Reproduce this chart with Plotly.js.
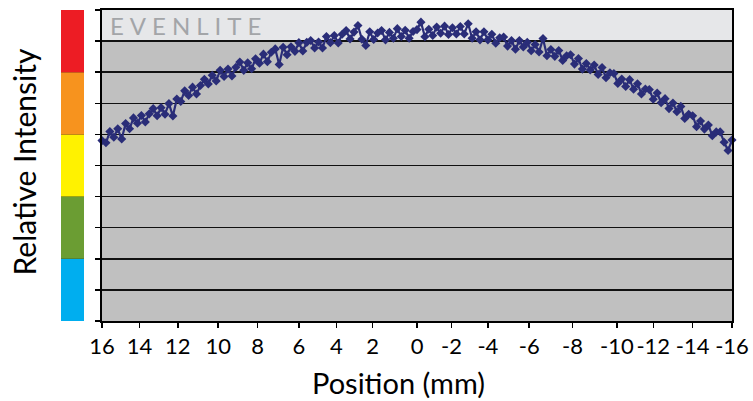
<!DOCTYPE html>
<html>
<head>
<meta charset="utf-8">
<script src="https://cdn.plot.ly/plotly-3.0.1.min.js"></script>
<style>html,body{margin:0;padding:0;background:#fff;}#chart{width:753px;height:401px;}</style>
</head>
<body>
<div id="chart"></div>
<script>
// Position (mm)
const positions = [
16.0,15.8,15.6,15.4,15.2,15.0,14.8,14.6,14.4,14.2,
14.0,13.8,13.6,13.4,13.2,13.0,12.8,12.6,12.4,12.2,
12.0,11.8,11.6,11.4,11.2,11.0,10.8,10.6,10.4,10.2,
10.0,9.8,9.6,9.4,9.2,9.0,8.8,8.6,8.4,8.2,
8.0,7.8,7.6,7.4,7.2,7.0,6.8,6.6,6.4,6.2,
6.0,5.8,5.6,5.4,5.2,5.0,4.8,4.6,4.4,4.2,
4.0,3.8,3.6,3.4,3.2,3.0,2.8,2.6,2.4,2.2,
2.0,1.8,1.6,1.4,1.2,1.0,0.8,0.6,0.4,0.2,
0.0,-0.2,-0.4,-0.6,-0.8,-1.0,-1.2,-1.4,-1.6,-1.8,
-2.0,-2.2,-2.4,-2.6,-2.8,-3.0,-3.2,-3.4,-3.6,-3.8,
-4.0,-4.2,-4.4,-4.6,-4.8,-5.0,-5.2,-5.4,-5.6,-5.8,
-6.0,-6.2,-6.4,-6.6,-6.8,-7.0,-7.2,-7.4,-7.6,-7.8,
-8.0,-8.2,-8.4,-8.6,-8.8,-9.0,-9.2,-9.4,-9.6,-9.8,
-10.0,-10.2,-10.4,-10.6,-10.8,-11.0,-11.2,-11.4,-11.6,-11.8,
-12.0,-12.2,-12.4,-12.6,-12.8,-13.0,-13.2,-13.4,-13.6,-13.8,
-14.0,-14.2,-14.4,-14.6,-14.8,-15.0,-15.2,-15.4,-15.6,-15.8,
-16.0
];
// Relative intensity (0-100 scale)
const intensity = [
58.0,57.3,60.9,59.1,61.8,58.5,63.5,61.8,65.3,63.6,
66.1,64.0,66.6,68.3,66.0,68.6,66.5,69.9,65.9,71.4,
70.6,74.0,72.5,75.2,73.0,75.7,77.7,76.2,79.0,77.2,
80.6,78.6,81.0,78.8,81.6,83.3,80.6,83.0,81.1,84.3,
82.9,85.8,83.4,86.4,87.5,82.5,88.0,85.6,88.2,86.7,
89.5,86.8,89.6,90.2,87.8,89.7,87.8,91.5,89.5,91.8,
89.4,92.2,93.4,90.7,92.9,95.0,90.6,88.6,93.0,90.5,
92.6,93.4,90.4,92.8,90.9,94.0,91.5,93.5,90.9,93.1,
93.7,96.1,91.4,93.8,91.8,94.5,92.5,94.8,92.1,94.3,
92.3,94.7,92.3,95.6,90.9,93.0,90.4,93.0,90.4,92.2,
89.3,91.1,91.3,88.4,90.2,87.4,90.2,88.1,89.6,86.9,
88.9,86.5,90.8,85.3,87.3,85.1,87.0,83.8,85.3,85.6,
82.6,84.4,81.0,82.8,80.7,82.3,79.3,81.5,78.2,79.8,
79.6,76.4,77.8,75.4,77.6,74.5,76.3,73.0,74.6,74.4,
71.3,73.3,70.2,71.5,68.3,70.1,67.3,69.0,65.1,66.5,
66.0,62.5,64.3,61.7,63.0,59.6,60.8,60.8,57.5,54.8,
58.2
];
// X tick labels and where they sit on the axis
const tickLabels = ['16','14','12','10','8','6','4','2','0','-2','-4','-6','-8','-10','-12','-14','-16'];
const tickPositions = [16, 14.1, 12.15, 10.1, 8.1, 6.0, 4.1, 2.25, 0.0, -1.75, -3.6, -5.7, -7.9, -10.15, -12.0, -14.0, -16.0];
// Intensity colour scale bands
const bandBase = [0, 20, 40, 60, 80];
const bandSize = [20, 20, 20, 20, 20];
const bandColors = ['#00aeef', '#6b9d33', '#fff200', '#f7931e', '#ed1c24'];
const brandLabel = 'EVENLITE';
const xTitle = 'Position (mm)';
const yTitle = 'Relative Intensity';
const topBandStart = 90;

const FONT = 'Lato, "Open Sans", sans-serif';

const traces = [
  {
    type: 'bar', x: bandBase.map(() => 0), y: bandSize, base: bandBase,
    xaxis: 'x2', yaxis: 'y', width: 1,
    marker: {color: bandColors, line: {width: 0}},
    hoverinfo: 'skip', showlegend: false
  },
  {
    type: 'scatter', mode: 'lines+markers', x: positions, y: intensity,
    xaxis: 'x', yaxis: 'y',
    line: {color: '#2a2d78', width: 2.2},
    marker: {symbol: 'diamond', size: 7, color: '#2a2d78'},
    cliponaxis: false, showlegend: false
  }
];

const layout = {
  width: 753, height: 401,
  margin: {l: 0, r: 21, t: 10, b: 80, pad: 0},
  paper_bgcolor: '#ffffff',
  plot_bgcolor: '#c0c0c0',
  barmode: 'overlay',
  showlegend: false,
  font: {family: FONT, color: '#000'},
  xaxis: {
    domain: [102/732, 1], range: [16, -16], anchor: 'y',
    tickmode: 'array', tickvals: tickPositions, ticktext: tickLabels,
    ticks: 'outside', ticklen: 5, tickwidth: 1.5, tickcolor: '#000',
    showline: true, linecolor: '#000', linewidth: 2, mirror: true,
    showgrid: false, zeroline: false,
    tickfont: {family: FONT, size: 22, color: '#000'},
    automargin: false
  },
  xaxis2: {
    domain: [61/732, 84/732], range: [-0.5, 0.5], anchor: 'y',
    visible: false, showgrid: false, zeroline: false
  },
  yaxis: {
    range: [0, 100], dtick: 10, anchor: 'x',
    ticks: 'outside', ticklen: 5, tickwidth: 1.5, tickcolor: '#000',
    showticklabels: false,
    showline: true, linecolor: '#000', linewidth: 2, mirror: true,
    showgrid: true, gridcolor: '#111', gridwidth: 1.5, zeroline: false,
    automargin: false
  },
  shapes: [
    {type: 'rect', xref: 'x domain', yref: 'y', x0: 0, x1: 1, y0: topBandStart, y1: 100,
     fillcolor: '#e6e7e9', line: {width: 0}, layer: 'below'}
  ],
  annotations: [
    {text: yTitle, xref: 'paper', yref: 'paper', x: 24/732, y: 0.5096,
     textangle: -90, showarrow: false, xanchor: 'center', yanchor: 'middle',
     font: {family: FONT, size: 30, color: '#000'}},
    {text: xTitle, xref: 'paper', yref: 'paper', x: 398.5/732, y: -0.199,
     showarrow: false, xanchor: 'center', yanchor: 'middle',
     font: {family: FONT, size: 29, color: '#000'}},
    {text: brandLabel.split('').join('\u2005'), xref: 'paper', yref: 'paper', x: 108/732, y: 0.9486,
     showarrow: false, xanchor: 'left', yanchor: 'middle',
     font: {family: FONT, size: 24, color: '#a3a5a8'}}
  ]
};

Plotly.newPlot('chart', traces, layout, {displayModeBar: false, staticPlot: true});
</script>
</body>
</html>
